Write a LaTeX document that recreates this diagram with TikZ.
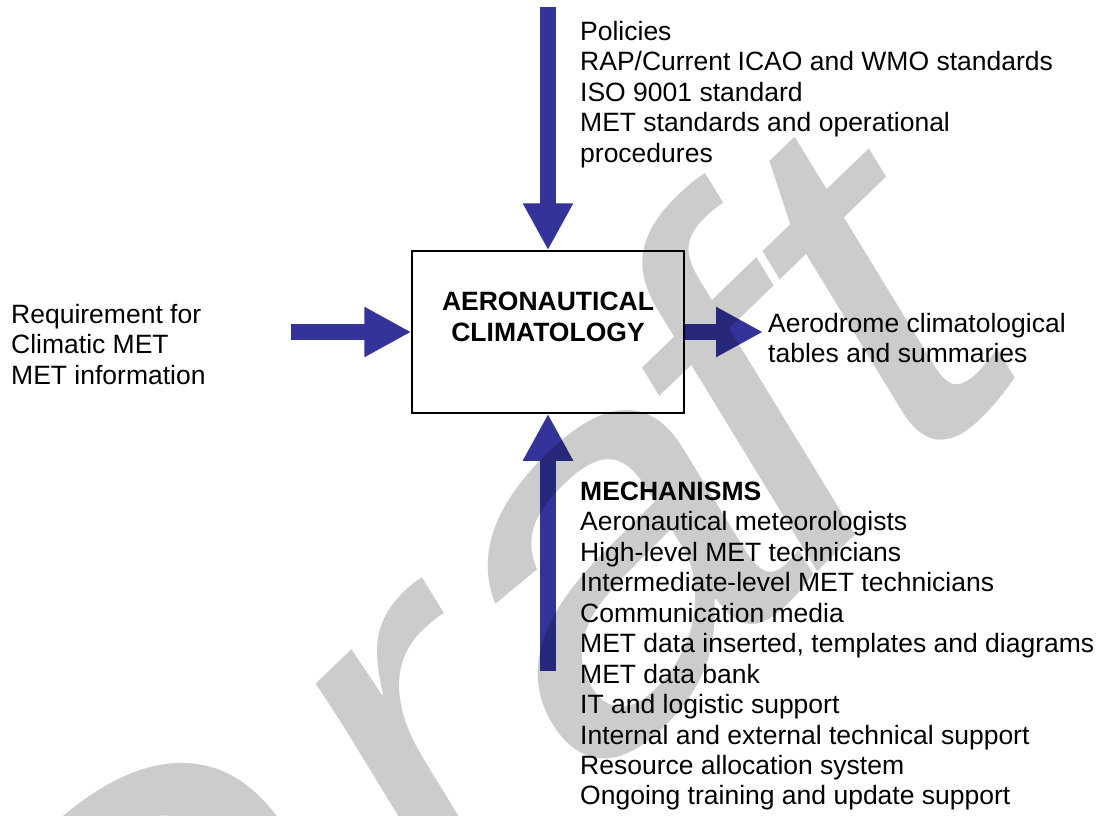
\documentclass[tikz,border=0pt]{standalone}
\usepackage{fontspec}
\setmainfont{Liberation Sans}
\usetikzlibrary{arrows.meta}
\definecolor{arrowblue}{HTML}{333399}
\tikzstyle{mainbox} = [rectangle, draw=black, line width=1.5pt, minimum width=272pt, minimum height=162pt, inner sep=0pt]
\tikzstyle{boxtitle} = [align=center, font=\bfseries\fontsize{26.5}{30.7}\selectfont, inner sep=0pt]
\tikzstyle{listtext} = [align=left, anchor=north west, font=\fontsize{26.5}{30.45}\selectfont, inner sep=0pt]
\tikzstyle{bigarrow} = [draw=arrowblue, line width=16pt, -{Triangle[width=47pt,length=47pt]}]
\tikzstyle{watermark} = [transform shape, anchor=base west, inner sep=0pt, text=black, text opacity=0.2, font=\fontsize{400}{400}\selectfont]

\begin{document}
\begin{tikzpicture}[x=1pt, y=-1pt]
  \useasboundingbox (0,0) rectangle (1103,816);
  \clip (0,0) rectangle (1103,816);
  % activity box
  \node (box) [mainbox] at (548,332) {};
  \node (title) [boxtitle] at (548,316.8) {AERONAUTICAL\\CLIMATOLOGY};
  % texts round the box
  \node (controls) [listtext] at (580,21) {Policies\\RAP/Current ICAO and WMO standards\\ISO 9001 standard\\MET standards and operational\\procedures};
  \node (input) [listtext] at (11,304) {Requirement for\\Climatic MET\\MET information};
  \node (output) [listtext, inner xsep=5pt] at (763,312.7) {Aerodrome climatological\\tables and summaries};
  \node (mechanisms) [listtext] at (580,481.7) {\textbf{MECHANISMS}\\Aeronautical meteorologists\\High-level MET technicians\\Intermediate-level MET technicians\\Communication media\\MET data inserted, templates and diagrams\\MET data bank\\IT and logistic support\\Internal and external technical support\\Resource allocation system\\Ongoing training and update support};
  % arrows
  \coordinate (ctrltail) at (548,7);
  \coordinate (inputtail) at (291,332);
  \coordinate (mechtail) at (548,671);
  \draw [bigarrow] (ctrltail) -- (ctrltail |- box.north);
  \draw [bigarrow] (inputtail) -- (box.west);
  \draw [bigarrow] (box.east) -- (box.east -| output.west);
  \draw [bigarrow] (mechtail) -- (mechtail |- box.south);
  % watermark
  \begin{scope}[shift={(93,1272)}, cm={1.079,1.0425,-0.6775,1.11,(0,0)}]
    \node (draft) [watermark] at (0,0) {D\kern0.06em ra\kern-0.08em ft};
  \end{scope}
\end{tikzpicture}
\end{document}
